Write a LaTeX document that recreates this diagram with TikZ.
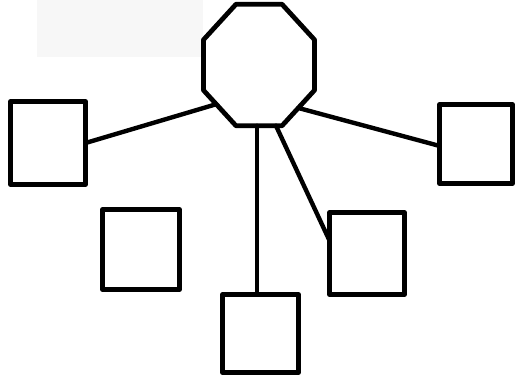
\documentclass[tikz,border=0pt]{standalone}
\usepackage{tikz}
\usetikzlibrary{calc,shapes.geometric}
\tikzset{
  box/.style={draw,line width=2.7pt,inner sep=0pt,outer sep=0pt},
  hub/.style={draw,line width=2.7pt,regular polygon,regular polygon sides=8,
    minimum size=26.3mm,inner sep=0pt,outer sep=0pt,xscale=0.915},
  link/.style={line width=2.5pt}
}

\begin{document}
\begin{tikzpicture}[x=0.2mm,y=-0.2mm,line cap=round,line join=round]
  \useasboundingbox (0,0) rectangle (521,381);
  \fill[gray!6] (37,0) rectangle (203,57);

  \node[hub] (hub) at (259,65) {};
  \node[box,minimum width=15.0mm,minimum height=16.6mm] (sqL)  at (48,143)    {};
  \node[box,minimum width=15.4mm,minimum height=16.0mm] (sqM)  at (141,249.5) {};
  \node[box,minimum width=15.2mm,minimum height=15.6mm] (sqB)  at (260.5,333.5) {};
  \node[box,minimum width=15.0mm,minimum height=16.4mm] (sqR2) at (367,253.5) {};
  \node[box,minimum width=14.6mm,minimum height=15.8mm] (sqR)  at (476,144)   {};

  \draw[link] (hub.220) -- (sqL.east);
  \draw[link] (hub.315) -- (sqR.183);
  \draw[link] (hub.287) -- (sqR2.161);
  \draw[link] (hub.268) -- (hub.268 |- sqB.north);
\end{tikzpicture}
\end{document}
